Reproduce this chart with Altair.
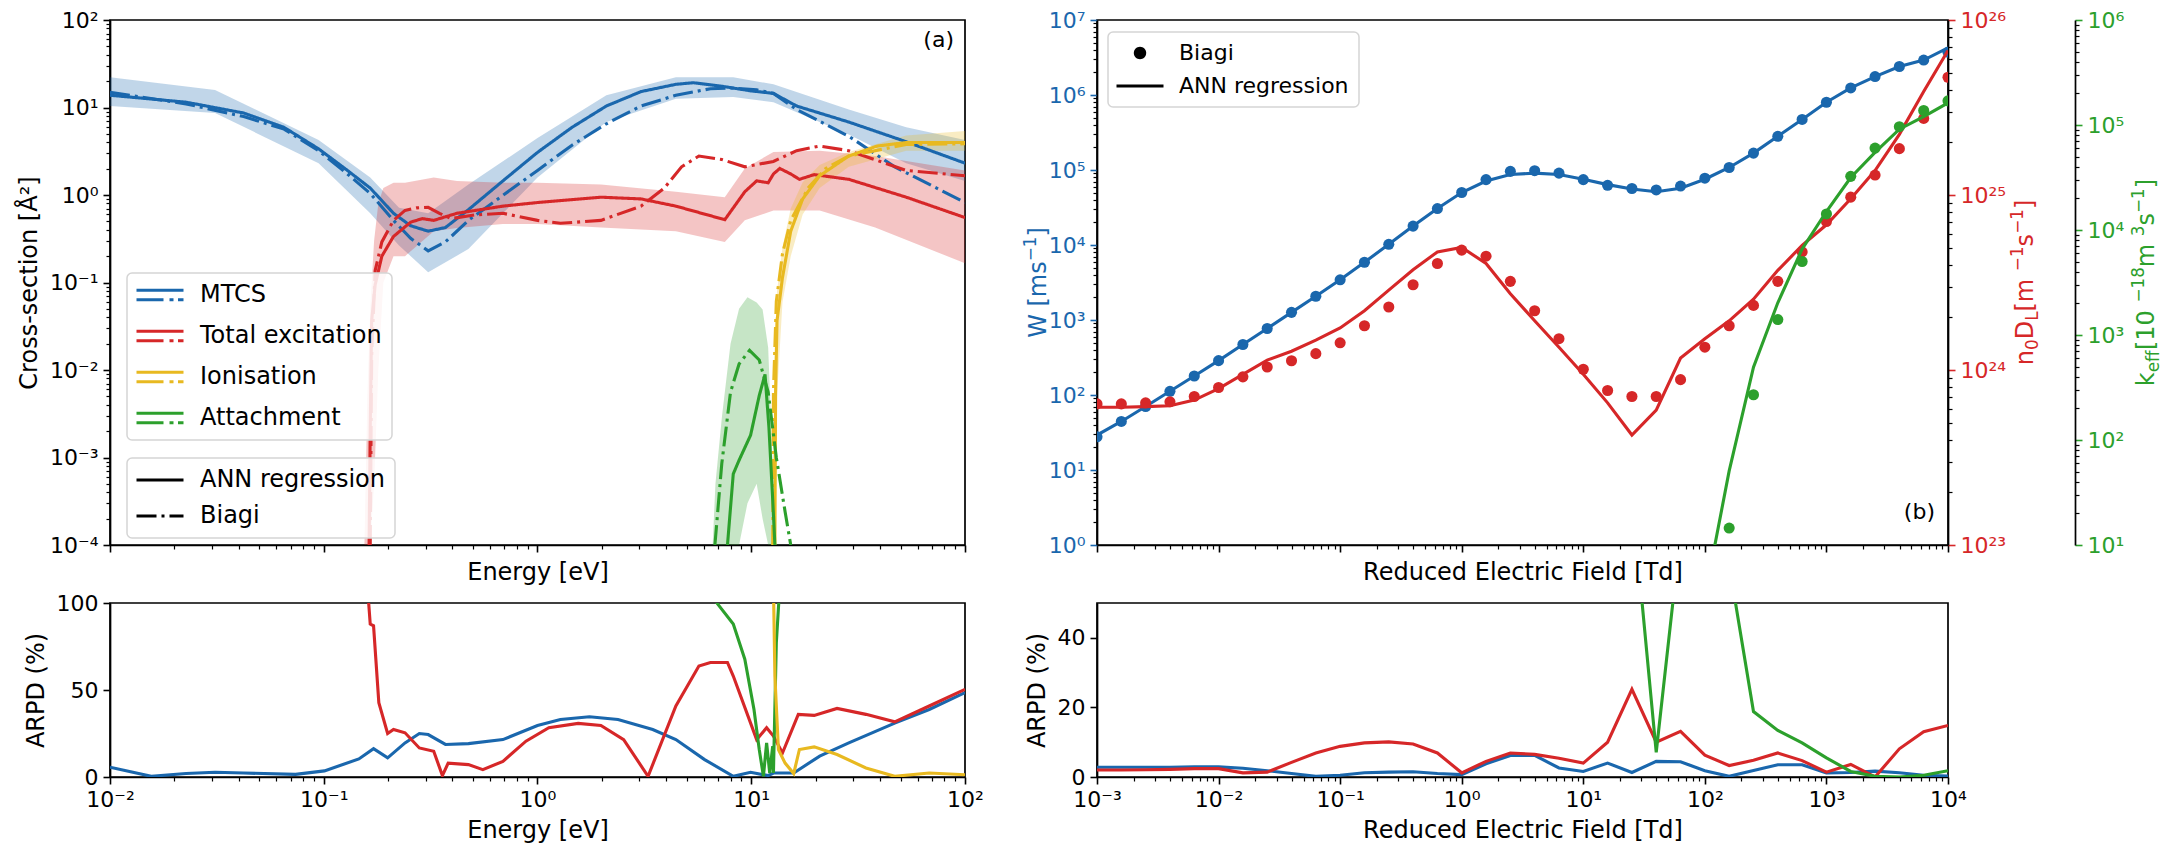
import altair as alt
import pandas as pd

FONT = "DejaVu Sans"
BLUE = "#1a67ad"
RED = "#d62728"
YELLOW = "#e8b920"
GREEN = "#2ca02c"
COMPONENTS = ["MTCS", "Total excitation", "Ionisation", "Attachment"]
COMP_COLORS = [BLUE, RED, YELLOW, GREEN]
SOURCES = ["ANN regression", "Biagi"]
DASHDOT = [20, 5, 3, 5]
LW = 3.1
AX_W = 1.7

# ---------------- panel (a): cross sections ----------------
MT_ANN_E = [0.01, 0.0227, 0.0422, 0.0652, 0.0946, 0.129, 0.165, 0.212, 0.255, 0.308, 0.371, 0.475, 0.689, 1.0, 1.45, 2.10, 3.05, 4.44, 5.35, 7.29, 9.93, 12.7, 16.3, 28.6, 53.1, 100]
MT_ANN_S = [13.8, 11.5, 8.65, 5.93, 3.37, 1.91, 1.20, 0.618, 0.445, 0.386, 0.425, 0.679, 1.45, 3.07, 5.93, 10.4, 15.2, 18.4, 19.2, 17.5, 15.5, 14.5, 10.4, 6.82, 4.06, 2.31]
MT_BIAGI_E = [0.01, 0.0227, 0.0422, 0.0652, 0.0946, 0.129, 0.165, 0.212, 0.255, 0.308, 0.371, 0.475, 0.689, 1.0, 1.45, 2.10, 3.05, 4.44, 6.44, 8.24, 10.6, 12.7, 16.3, 28.6, 46.9, 100]
MT_BIAGI_S = [14.9, 11.0, 7.87, 5.66, 3.21, 1.74, 1.04, 0.513, 0.32, 0.23, 0.291, 0.513, 0.991, 1.91, 3.71, 6.52, 10.4, 13.8, 16.4, 16.7, 15.9, 14.5, 9.5, 4.69, 2.10, 0.82]
MT_BAND_E = [0.01, 0.031, 0.0946, 0.165, 0.225, 0.308, 0.475, 1.0, 2.10, 4.44, 8.24, 12.7, 28.6, 53.1, 100]
MT_BAND_LO = [10.4, 8.65, 2.31, 0.618, 0.265, 0.131, 0.241, 1.58, 6.82, 12.6, 13.2, 11.5, 4.91, 2.31, 1.45]
MT_BAND_HI = [22.2, 15.9, 4.26, 1.58, 0.713, 0.618, 1.32, 4.47, 13.8, 22.2, 22.2, 18.4, 9.5, 5.93, 4.26]

EX_ANN_E = [0.163, 0.165, 0.1675, 0.174, 0.187, 0.212, 0.255, 0.289, 0.327, 0.371, 0.42, 0.689, 1.0, 1.98, 3.05, 4.44, 7.52, 8.24, 9.33, 10.6, 12.0, 12.7, 13.6, 15.3, 16.8, 19.7, 28.6, 53.1, 100]
EX_ANN_S = [1e-4, 0.00217, 0.0366, 0.094, 0.2, 0.336, 0.489, 0.537, 0.513, 0.564, 0.618, 0.746, 0.82, 0.944, 0.902, 0.746, 0.522, 0.713, 1.09, 1.45, 1.38, 1.74, 2.01, 1.74, 1.51, 1.71, 1.51, 0.944, 0.552]
EX_BIAGI_E = [0.165, 0.1675, 0.174, 0.187, 0.212, 0.24, 0.272, 0.308, 0.348, 0.394, 0.506, 0.689, 1.0, 1.28, 1.98, 3.05, 3.92, 4.72, 5.69, 7.29, 9.33, 12.7, 16.3, 20.9, 28.6, 53.1, 100]
EX_BIAGI_S = [1e-4, 0.0143, 0.137, 0.291, 0.513, 0.667, 0.713, 0.724, 0.618, 0.537, 0.59, 0.618, 0.513, 0.475, 0.513, 0.746, 1.2, 2.1, 2.79, 2.54, 2.1, 2.42, 3.21, 3.63, 3.21, 1.91, 1.66]
EX_BAND_E = [0.155, 0.160, 0.165, 0.172, 0.180, 0.19, 0.212, 0.24, 0.327, 0.42, 0.689, 1.0, 1.98, 4.44, 7.52, 9.33, 12.7, 20.9, 38.0, 100]
EX_BAND_LO = [1e-4, 1e-4, 1e-4, 5e-4, 0.01, 0.1, 0.2, 0.2, 0.386, 0.42, 0.466, 0.466, 0.425, 0.386, 0.291, 0.513, 0.667, 0.667, 0.425, 0.166]
EX_BAND_HI = [1e-4, 0.005, 0.05, 0.3, 0.8, 1.2, 1.38, 1.38, 1.58, 1.45, 1.38, 1.38, 1.32, 1.09, 0.944, 2.01, 3.1, 3.21, 2.79, 1.91]

ION_ANN_E = [12.9, 13.0, 13.2, 14.0, 15.3, 17.4, 20.9, 28.6, 38.9, 53.1, 100]
ION_ANN_S = [1e-4, 0.0056, 0.0366, 0.114, 0.386, 0.902, 1.66, 2.79, 3.63, 3.98, 3.98]
ION_BIAGI_E = [12.6, 12.7, 13.1, 14.0, 15.3, 18.5, 22.3, 28.6, 53.1, 100]
ION_BIAGI_S = [1e-4, 0.0056, 0.061, 0.213, 0.513, 1.21, 2.01, 2.79, 3.78, 3.85]
ION_BAND_E = [12.6, 12.9, 13.2, 14.0, 15.3, 17.4, 20.9, 28.6, 53.1, 100]
ION_BAND_LO = [1e-4, 1e-4, 0.005, 0.06, 0.2, 0.6, 1.2, 2.1, 3.2, 3.2]
ION_BAND_HI = [1e-4, 0.02, 0.08, 0.25, 0.7, 1.4, 2.2, 3.1, 4.8, 5.4]

ATT_ANN_E = [7.74, 8.24, 8.77, 9.93, 10.9, 11.6, 12.1, 12.6, 12.9]
ATT_ANN_S = [1e-4, 6.5e-4, 9.3e-4, 0.0018, 0.0051, 0.0089, 0.0022, 3.3e-4, 1e-4]
ATT_BIAGI_E = [6.76, 7.28, 8.0, 8.77, 9.82, 10.9, 12.0, 13.1, 14.4, 15.3]
ATT_BIAGI_S = [1e-4, 8.5e-4, 0.0056, 0.0117, 0.0168, 0.013, 0.0056, 0.001, 2.4e-4, 1e-4]
ATT_BAND_E = [6.6, 6.8, 7.3, 8.0, 8.77, 9.6, 10.6, 11.3, 12.0, 12.7, 13.0]
ATT_BAND_LO = [1e-4, 1e-4, 1e-4, 1e-4, 1e-4, 3e-4, 5e-4, 2e-4, 1e-4, 1e-4, 1e-4]
ATT_BAND_HI = [1e-4, 5e-4, 0.003, 0.02, 0.05, 0.068, 0.059, 0.049, 0.018, 5e-4, 1e-4]

# ARPD (energy)
AE_BLUE_E = [0.01, 0.0156, 0.0227, 0.031, 0.0422, 0.0738, 0.1007, 0.146, 0.171, 0.199, 0.24, 0.28, 0.308, 0.371, 0.475, 0.689, 1.0, 1.28, 1.75, 2.38, 3.46, 4.44, 6.05, 8.24, 9.93, 12.0, 12.7, 15.8, 20.9, 28.6, 46.9, 68.0, 100]
AE_BLUE_V = [5.6, 0.4, 2.0, 2.7, 2.3, 1.5, 3.5, 10.4, 16.3, 11, 19.6, 25, 24.4, 18.7, 19.2, 21.5, 29.6, 33, 34.6, 33, 27.3, 21.5, 10, 0.4, 2.7, 0.8, 2.3, 2.3, 12, 19.6, 31, 38.8, 48.5]
AE_RED_E = [0.160, 0.165, 0.171, 0.181, 0.199, 0.212, 0.24, 0.28, 0.327, 0.359, 0.382, 0.475, 0.555, 0.689, 0.883, 1.13, 1.55, 1.98, 2.53, 3.29, 4.44, 5.69, 6.44, 7.74, 8.24, 10.6, 11.8, 12.7, 14.0, 16.6, 19.7, 25.2, 34.4, 46.9, 68.0, 100]
AE_RED_V = [110, 87.9, 86.9, 42.7, 25, 27.3, 25.4, 16.7, 14.8, 0.8, 8, 7.1, 4.2, 9, 20.6, 28.3, 30.8, 29.6, 21.5, 0.4, 40.8, 63.8, 65.8, 65.8, 58, 21.5, 28.3, 23.5, 13.8, 36, 35.4, 39.4, 36, 31.7, 40.8, 50.4]
AE_GREEN_E = [6.44, 7.06, 8.24, 9.33, 10.3, 10.9, 11.4, 11.8, 12.2, 12.6, 12.7, 13.1, 13.6]
AE_GREEN_V = [105, 98.5, 87.9, 67.7, 38.8, 15.8, 0.4, 19.6, 2.3, 17.7, 2.3, 77, 110]
AE_YEL_E = [12.7, 12.9, 13.4, 14.4, 15.8, 16.8, 19.7, 25.2, 34.4, 46.9, 68.0, 100]
AE_YEL_V = [110, 58, 15.8, 8, 2, 15.8, 17.3, 12.9, 5.2, 0.4, 2.3, 1.3]

# ---------------- panel (b): transport ----------------
EN = [0.001, 0.001585, 0.002512, 0.003981, 0.00631, 0.01, 0.01585, 0.02512, 0.03981, 0.0631,
      0.1, 0.1585, 0.2512, 0.3981, 0.631, 1.0, 1.585, 2.512, 3.981, 6.31,
      10.0, 15.85, 25.12, 39.81, 63.1, 100.0, 158.5, 251.2, 398.1, 631.0,
      1000.0, 1585.0, 2512.0, 3981.0, 6310.0, 10000.0]
W_BIAGI = [27.7, 44.4, 70.3, 112, 179, 287, 471, 771, 1265, 2075,
           3436, 5888, 10210, 17860, 30620, 50120, 74470, 95940, 97950, 90780,
           74470, 62520, 56620, 54200, 61090, 77800, 108100, 167900, 281200, 472100,
           799800, 1241700, 1762000, 2399000, 2924000, 3724000]
W_ANN = [29.2, 44.4, 70.3, 112, 179, 287, 471, 771, 1265, 2075,
         3436, 5888, 10210, 17860, 30620, 50120, 71300, 86900, 90800, 86900,
         75300, 63800, 55900, 51300, 57100, 75300, 108100, 167900, 281200, 472100,
         799800, 1241700, 1762000, 2399000, 2924000, 4250000]
D_BIAGI = [6.40e23, 6.40e23, 6.49e23, 6.58e23, 7.06e23, 7.94e23, 9.14e23, 1.04e24, 1.13e24, 1.24e24,
           1.43e24, 1.79e24, 2.29e24, 3.07e24, 4.06e24, 4.84e24, 4.47e24, 3.21e24, 2.18e24, 1.51e24,
           1.01e24, 7.64e23, 7.06e23, 7.06e23, 8.81e23, 1.35e24, 1.79e24, 2.34e24, 3.21e24, 4.73e24,
           7.06e24, 9.72e24, 1.30e25, 1.84e25, 2.74e25, 4.71e25]
D_ANN = [6.12e23, 6.12e23, 6.18e23, 6.25e23, 6.73e23, 7.83e23, 9.45e23, 1.14e24, 1.28e24, 1.48e24,
         1.74e24, 2.18e24, 2.86e24, 3.74e24, 4.73e24, 5.02e24, 4.06e24, 2.73e24, 1.91e24, 1.35e24,
         9.45e23, 6.49e23, 4.25e23, 5.90e23, 1.17e24, 1.51e24, 1.91e24, 2.54e24, 3.71e24, 5.15e24,
         6.76e24, 9.51e24, 1.38e25, 2.22e25, 3.90e25, 6.70e25]
EN_K_ANN = [100.0, 158.5, 251.2, 398.1, 631.0, 1000.0, 1585.0, 2512.0, 3981.0, 6310.0, 10000.0]
K_ANN = [3.2, 50.8, 494, 2028, 6577, 15000, 31620, 54830, 91200, 120200, 162200]
EN_K_BIAGI = [158.5, 251.2, 398.1, 631.0, 1000.0, 1585.0, 2512.0, 3981.0, 6310.0, 10000.0]
K_BIAGI = [14.5, 270, 1403, 5012, 14220, 32430, 60260, 96380, 137400, 169800]

W_ARPD = [2.8, 2.8, 2.8, 2.8, 2.9, 2.9, 2.5, 1.8, 1.0, 0.2, 0.5, 1.2, 1.4, 1.5, 1.0, 0.7, 3.8, 6.2,
          6.2, 2.6, 1.6, 4.0, 1.3, 4.5, 4.4, 1.8, 0.2, 1.9, 3.5, 3.5, 1.2, 1.3, 1.7, 1.2, 0.5, 0.3]
D_ARPD = [2.0, 2.0, 2.1, 2.2, 2.4, 2.4, 1.2, 1.4, 4.2, 6.9, 8.8, 9.8, 10.1, 9.5, 6.9, 1.2, 4.5, 6.9,
          6.5, 5.4, 4.0, 10.0, 25.2, 10.0, 13.1, 6.3, 3.3, 4.8, 6.9, 4.7, 1.4, 3.6, 0.0, 8.1, 13.0, 14.8]
EN_K_ARPD = [25.12, 39.81, 63.1, 100.0, 158.5, 251.2, 398.1, 631.0, 1000.0, 1585.0, 2512.0, 3981.0, 6310.0, 10000.0]
K_ARPD = [81, 7.1, 70, 100, 61, 18.8, 13.4, 9.8, 5.5, 1.6, 0.2, 0.0, 0.5, 1.8]

# ---------------- tables ----------------
def long(E, V, comp, src=None, key="S"):
    d = pd.DataFrame({"E": E, key: V, "comp": comp})
    if src is not None:
        d["src"] = src
    return d

line_df = pd.concat([
    long(MT_ANN_E, MT_ANN_S, "MTCS", "ANN regression"), long(MT_BIAGI_E, MT_BIAGI_S, "MTCS", "Biagi"),
    long(EX_ANN_E, EX_ANN_S, "Total excitation", "ANN regression"), long(EX_BIAGI_E, EX_BIAGI_S, "Total excitation", "Biagi"),
    long(ION_ANN_E, ION_ANN_S, "Ionisation", "ANN regression"), long(ION_BIAGI_E, ION_BIAGI_S, "Ionisation", "Biagi"),
    long(ATT_ANN_E, ATT_ANN_S, "Attachment", "ANN regression"), long(ATT_BIAGI_E, ATT_BIAGI_S, "Attachment", "Biagi"),
], ignore_index=True)

def band(E, lo, hi, comp):
    return pd.DataFrame({"E": E, "lo": lo, "hi": hi, "band": comp})

band_df = pd.concat([
    band(MT_BAND_E, MT_BAND_LO, MT_BAND_HI, "MTCS"),
    band(EX_BAND_E, EX_BAND_LO, EX_BAND_HI, "Total excitation"),
    band(ION_BAND_E, ION_BAND_LO, ION_BAND_HI, "Ionisation"),
    band(ATT_BAND_E, ATT_BAND_LO, ATT_BAND_HI, "Attachment"),
], ignore_index=True)

arpd_e_df = pd.concat([
    long(AE_BLUE_E, AE_BLUE_V, "MTCS", key="v"), long(AE_RED_E, AE_RED_V, "Total excitation", key="v"),
    long(AE_GREEN_E, AE_GREEN_V, "Attachment", key="v"), long(AE_YEL_E, AE_YEL_V, "Ionisation", key="v"),
], ignore_index=True)

tr_df = pd.DataFrame({"EN": EN, "W_ann": W_ANN, "W_biagi": W_BIAGI, "D_ann": D_ANN, "D_biagi": D_BIAGI})
k_ann_df = pd.DataFrame({"EN": EN_K_ANN, "k": K_ANN})
k_biagi_df = pd.DataFrame({"EN": EN_K_BIAGI, "k": K_BIAGI})
arpd_t_df = pd.concat([
    pd.DataFrame({"EN": EN, "v": W_ARPD, "q": "W"}),
    pd.DataFrame({"EN": EN, "v": D_ARPD, "q": "D"}),
    pd.DataFrame({"EN": EN_K_ARPD, "v": K_ARPD, "q": "k"}),
], ignore_index=True)
leg_df = pd.DataFrame({"EN": [EN[0], EN[0]], "W_biagi": [W_BIAGI[0], W_BIAGI[0]], "kind": ["Biagi", "ANN regression"]})
ONE = pd.DataFrame({"o": [0]})

# ---------------- axis helpers ----------------
DEC = "abs(log(datum.value)/LN10 - round(log(datum.value)/LN10)) < 0.001"
SUP = "('' + round(log(datum.value)/LN10))"
for a, b in [("-", "⁻"), ("−", "⁻"), ("0", "⁰"), ("1", "¹"), ("2", "²"), ("3", "³"), ("4", "⁴"),
             ("5", "⁵"), ("6", "⁶"), ("7", "⁷"), ("8", "⁸"), ("9", "⁹")]:
    SUP = f"replace({SUP}, '{a}', '{b}')"
LABEL = f"{DEC} ? '10' + {SUP} : ''"


def log_ticks(lo, hi):
    vals = []
    for e in range(lo, hi):
        for m in range(1, 10):
            vals.append(float(m) * 10.0 ** e)
    vals.append(10.0 ** hi)
    return vals


def log_axis(lo, hi, labels=True, title=None, color="black", **kw):
    return alt.Axis(
        values=log_ticks(lo, hi), labelExpr=LABEL, labels=labels, title=title,
        labelOverlap=False, labelFlush=False, labelColor=color, grid=False,
        tickSize={"condition": {"test": DEC, "value": 7}, "value": 4},
        tickWidth={"condition": {"test": DEC, "value": 1.6}, "value": 1.2},
        tickColor={"condition": {"test": DEC, "value": color}, "value": "black"},
        **kw)


def lin_axis(vals, title):
    return alt.Axis(values=vals, title=title, tickSize=7, tickWidth=1.6, tickColor="black",
                    grid=False, labelFlush=False, labelOverlap=False)


def txt(s, x, y, size, color="black", align="left", angle=0):
    kw = dict(text=s, align=align, baseline="alphabetic", fontSize=size, font=FONT, color=color)
    if angle:
        kw["angle"] = angle
    return alt.Chart(ONE).mark_text(**kw).encode(x=alt.value(x), y=alt.value(y))


W_EM = {"W": 0.989, " ": 0.318, "[": 0.390, "]": 0.390, "m": 0.974, "s": 0.521, "−": 0.838,
        "1": 0.636, "0": 0.636, "8": 0.636, "3": 0.636, "n": 0.634, "D": 0.770, "L": 0.557,
        "k": 0.579, "e": 0.615, "f": 0.352}


def vtitle(pieces, xb, yc, size, color):
    small = 0.7 * size
    widths = [sum(W_EM[c] for c in t) * (size if k == "n" else small) for t, k in pieces]
    y = yc + sum(widths) / 2
    out = []
    for (t, k), w in zip(pieces, widths):
        fs = size if k == "n" else small
        dx = 0 if k == "n" else (0.22 * size if k == "sub" else -0.42 * size)
        out.append(txt(t, xb + dx, y, fs, color=color, angle=270))
        y -= w
    return out


# ---------------- panel (a) top ----------------
TLW, TLH = 855, 525
BH = 174
E_SCALE = alt.Scale(type="log", domain=[0.01, 100], nice=False)
CS_SCALE = alt.Scale(type="log", domain=[1e-4, 100], nice=False)
ax_e_top = log_axis(-2, 2, labels=False, title="Energy [eV]")
ax_cs = log_axis(-4, 2, title="Cross-section [Å²]")

PATH2 = "M-2.35,-0.48H2.35M-2.35,0.48H0.35M0.95,0.48H1.35M1.8,0.48H2.35"
PATH1 = "M-2.35,0H2.35"
BAR = "M-2.35,-0.15H2.35V0.15H-2.35Z"
CIRCLE = "M-0.62,0A0.62,0.62 0 1,0 0.62,0A0.62,0.62 0 1,0 -0.62,0Z"
LEG_COMMON = dict(title=None, orient="none", symbolSize=400,
                  labelFont=FONT, labelColor="black", labelLimit=600, padding=10,
                  symbolOffset=11, labelOffset=28, strokeColor="#d5d5d5",
                  fillColor="rgba(255,255,255,0.85)", cornerRadius=5)

bands = [
    alt.Chart(band_df).transform_filter(alt.datum.band == c).mark_area(color=col, opacity=0.27, clip=True).encode(
        x=alt.X("E:Q", scale=E_SCALE, axis=ax_e_top),
        y=alt.Y("lo:Q", scale=CS_SCALE, axis=ax_cs), y2="hi:Q")
    for c, col in zip(COMPONENTS, COMP_COLORS)
]
lines = alt.Chart(line_df).mark_line(strokeWidth=LW, clip=True).encode(
    x=alt.X("E:Q", scale=E_SCALE, axis=ax_e_top),
    y=alt.Y("S:Q", scale=CS_SCALE, axis=ax_cs),
    color=alt.Color("comp:N", scale=alt.Scale(domain=COMPONENTS, range=COMP_COLORS),
                    legend=alt.Legend(legendX=17, legendY=253, symbolType=PATH2, rowPadding=17,
                                      labelFontSize=24, symbolStrokeWidth=LW, **LEG_COMMON)),
    strokeDash=alt.StrokeDash("src:N", scale=alt.Scale(domain=SOURCES, range=[[1, 0], DASHDOT]),
                              legend=alt.Legend(legendX=17, legendY=438, symbolType=PATH1, rowPadding=12,
                                                labelFontSize=24, symbolStrokeWidth=LW,
                                                symbolStrokeColor="black", **LEG_COMMON)),
)
tl = alt.layer(*bands, lines, txt("(a)", TLW - 11, 27, 22, align="right")).properties(width=TLW, height=TLH)

bl = alt.Chart(arpd_e_df).mark_line(strokeWidth=LW, clip=True).encode(
    x=alt.X("E:Q", scale=E_SCALE, axis=log_axis(-2, 2, title="Energy [eV]")),
    y=alt.Y("v:Q", scale=alt.Scale(domain=[0, 100], nice=False), axis=lin_axis([0, 50, 100], "ARPD (%)")),
    color=alt.Color("comp:N", scale=alt.Scale(domain=COMPONENTS, range=COMP_COLORS), legend=None),
).properties(width=TLW, height=BH)

# ---------------- panel (b) top ----------------
TRW = 851
EN_SCALE = alt.Scale(type="log", domain=[1e-3, 1e4], nice=False)
ax_en_top = log_axis(-3, 4, labels=False, title="Reduced Electric Field [Td]")
x_tr = alt.X("EN:Q", scale=EN_SCALE, axis=ax_en_top)
sc_w = alt.Scale(type="log", domain=[1, 1e7], nice=False)
sc_d = alt.Scale(type="log", domain=[1e23, 1e26], nice=False)
sc_k = alt.Scale(type="log", domain=[10, 1e6], nice=False)
ax_w = log_axis(0, 7, color=BLUE)
ax_d = log_axis(23, 26, color=RED, orient="right")
ax_k = log_axis(1, 6, color=GREEN, orient="right", offset=127, domainColor="black", domainWidth=AX_W)

blue_grp = alt.layer(
    alt.Chart(tr_df).mark_line(color=BLUE, strokeWidth=LW, clip=True).encode(
        x=x_tr, y=alt.Y("W_ann:Q", scale=sc_w, axis=ax_w)),
    alt.Chart(tr_df).mark_circle(color=BLUE, size=123, opacity=1, clip=True).encode(
        x=x_tr, y=alt.Y("W_biagi:Q", scale=sc_w, axis=ax_w)),
    alt.Chart(leg_df).mark_point(filled=True, fill="black", opacity=0).encode(
        x=x_tr, y=alt.Y("W_biagi:Q", scale=sc_w, axis=ax_w),
        shape=alt.Shape("kind:N", scale=alt.Scale(domain=["Biagi", "ANN regression"], range=[CIRCLE, BAR]),
                        legend=alt.Legend(legendX=11, legendY=12, rowPadding=11, symbolOpacity=1,
                                          labelFontSize=22, symbolStrokeWidth=0, symbolFillColor="black",
                                          **LEG_COMMON))),
)
red_grp = alt.layer(
    alt.Chart(tr_df).mark_line(color=RED, strokeWidth=LW, clip=True).encode(
        x=x_tr, y=alt.Y("D_ann:Q", scale=sc_d, axis=ax_d)),
    alt.Chart(tr_df).mark_circle(color=RED, size=123, opacity=1, clip=True).encode(
        x=x_tr, y=alt.Y("D_biagi:Q", scale=sc_d, axis=ax_d)),
)
green_grp = alt.layer(
    alt.Chart(k_ann_df).mark_line(color=GREEN, strokeWidth=LW, clip=True).encode(
        x=x_tr, y=alt.Y("k:Q", scale=sc_k, axis=ax_k)),
    alt.Chart(k_biagi_df).mark_circle(color=GREEN, size=123, opacity=1, clip=True).encode(
        x=x_tr, y=alt.Y("k:Q", scale=sc_k, axis=ax_k)),
)
titles = (vtitle([("W [ms", "n"), ("−1", "sup"), ("]", "n")], -51, TLH / 2, 24, BLUE)
          + vtitle([("n", "n"), ("0", "sub"), ("D", "n"), ("L", "sub"), (" [m", "n"), ("−1", "sup"),
                    ("s", "n"), ("−1", "sup"), ("]", "n")], 936, TLH / 2, 24, RED)
          + vtitle([("k", "n"), ("eff", "sub"), (" [10", "n"), ("−18", "sup"), (" m", "n"), ("3", "sup"),
                    ("s", "n"), ("−1", "sup"), ("]", "n")], 1057, TLH / 2, 24, GREEN))
tr = alt.layer(blue_grp, red_grp, green_grp, *titles, txt("(b)", TRW - 13, 499, 22, align="right")
               ).resolve_scale(y="independent").properties(width=TRW, height=TLH)

br = alt.Chart(arpd_t_df).mark_line(strokeWidth=LW, clip=True).encode(
    x=alt.X("EN:Q", scale=EN_SCALE, axis=log_axis(-3, 4, title="Reduced Electric Field [Td]")),
    y=alt.Y("v:Q", scale=alt.Scale(domain=[0, 50], nice=False), axis=lin_axis([0, 20, 40], "ARPD (%)")),
    color=alt.Color("q:N", scale=alt.Scale(domain=["W", "D", "k"], range=[BLUE, RED, GREEN]), legend=None),
).properties(width=TRW, height=BH)

RES = dict(color="independent", strokeDash="independent", fill="independent", shape="independent")
left = alt.vconcat(tl, bl, spacing=5).resolve_scale(**RES)
right = alt.vconcat(tr, br, spacing=16).resolve_scale(**RES)
chart = alt.hconcat(left, right, spacing=37).resolve_scale(**RES).properties(
    padding={"left": 8, "top": 0, "right": 0, "bottom": 0}
).configure(font=FONT).configure_view(stroke="black", strokeWidth=AX_W).configure_axis(
    labelFont=FONT, labelFontSize=22, titleFont=FONT, titleFontSize=24, titleFontWeight="normal",
    titleColor="black", labelPadding=5, titlePadding=8, domainColor="black", domainWidth=AX_W,
).configure_legend(strokeWidth=1.5)

chart.save("out.html", embed_options={"renderer": "svg", "actions": False})
